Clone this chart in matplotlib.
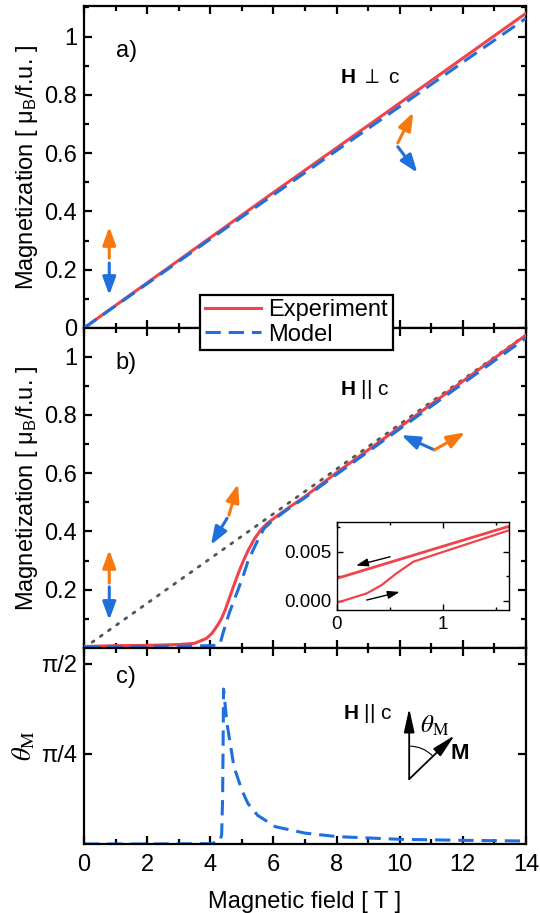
import numpy as np
import matplotlib
matplotlib.use("Agg")
import matplotlib.pyplot as plt
import matplotlib.transforms as mtrans
from matplotlib.patches import Arc
from matplotlib.lines import Line2D
from matplotlib.ticker import MultipleLocator, FixedLocator

plt.rcParams['font.family'] = ['Liberation Sans', 'DejaVu Sans']
plt.rcParams['mathtext.fontset'] = 'custom'
plt.rcParams['mathtext.rm'] = 'Liberation Sans'
plt.rcParams['mathtext.bf'] = 'Liberation Sans:bold'
plt.rcParams['mathtext.it'] = 'Liberation Sans:italic'
plt.rcParams['mathtext.fallback'] = 'stixsans'

RED = '#F0434B'
BLUE = '#1F6FDC'
ORANGE = '#F8780F'
GREY = '#555555'

# ---------------- data ----------------
field_a = [0, 2, 4, 6, 8, 10, 12, 14]
exp_a = [0, 0.155, 0.31, 0.465, 0.618, 0.772, 0.926, 1.08]
model_a = [0, 0.152, 0.305, 0.457, 0.609, 0.760, 0.912, 1.063]

field_b_exp = [0, 1, 2, 3, 3.5, 3.88, 4.05, 4.2, 4.35, 4.47, 4.6, 4.73, 4.9,
               5.05, 5.2, 5.4, 5.6, 5.8, 6.1, 6.5, 7, 8, 9, 10, 11, 12, 13, 14]
exp_b = [0.005, 0.008, 0.009, 0.012, 0.016, 0.033, 0.05, 0.073, 0.1, 0.13,
         0.17, 0.21, 0.26, 0.30, 0.335, 0.375, 0.405, 0.428, 0.452, 0.483,
         0.52, 0.602, 0.68, 0.758, 0.837, 0.916, 0.995, 1.074]

field_b_mod = [0, 1, 2, 3, 4, 4.3, 4.4, 4.6, 4.88, 5.05, 5.2, 5.46, 5.7,
               6.0, 6.5, 7, 8, 9, 10, 11, 12, 13, 14]
model_b = [0.003, 0.004, 0.005, 0.006, 0.008, 0.01, 0.05, 0.12, 0.2, 0.25,
           0.3, 0.36, 0.41, 0.44, 0.48, 0.516, 0.596, 0.674, 0.752, 0.83,
           0.908, 0.986, 1.064]

field_dot = [0, 14]
lin_dot = [0, 1.075]

inset_field_down = [0, 1.62]
inset_m_down = [0.00229, 0.00762]
inset_field_up = [0, 0.28, 0.42, 0.56, 0.72, 1.0, 1.62]
inset_m_up = [-0.0002, 0.00075, 0.0016, 0.0028, 0.004, 0.005, 0.00721]

field_c = [0, 2, 4.0, 4.3, 4.36, 4.39, 4.41, 4.42, 4.53, 4.75, 5.0, 5.19, 5.5,
           6.06, 7, 8.03, 10, 12, 14]
theta_c = [0, 0, 0.003, 0.02, 0.08, 0.4, 1.0, 1.352, 1.05, 0.673, 0.47, 0.354,
           0.25, 0.151, 0.095, 0.064, 0.041, 0.032, 0.026]

xticks = [0, 2, 4, 6, 8, 10, 12, 14]
mticks = [0, 0.2, 0.4, 0.6, 0.8, 1.0]
mtick_labels_a = ['0', '0.2', '0.4', '0.6', '0.8', '1']
mtick_labels_b = ['', '0.2', '0.4', '0.6', '0.8', '1']
theta_ticks = [np.pi / 4, np.pi / 2]
theta_labels = ['π/4', 'π/2']

# ---------------- figure ----------------
W, H = 540, 913
fig = plt.figure(figsize=(W / 100, H / 100), dpi=100)


def px_axes(left, top, right, bottom):
    return fig.add_axes([left / W, 1 - bottom / H, (right - left) / W, (bottom - top) / H])


axa = px_axes(84, 6, 526, 328)
axb = px_axes(84, 328, 526, 648)
axc = px_axes(84, 648, 526, 844)

FS = 17
DASH = (0, (5, 2.6))


def style(ax):
    for s in ax.spines.values():
        s.set_linewidth(1.6)
    ax.tick_params(which='both', direction='in', top=True, right=True, width=1.6,
                   labelsize=FS, pad=5)
    ax.tick_params(which='major', length=6)
    ax.tick_params(which='minor', length=3.5)
    ax.set_xlim(0, 14)
    ax.xaxis.set_major_locator(FixedLocator(xticks))
    ax.xaxis.set_minor_locator(MultipleLocator(1))


for ax in (axa, axb, axc):
    style(ax)

# panel a
axa.plot(field_a, exp_a, color=RED, lw=2.2, zorder=3)
axa.plot(field_a, model_a, color=BLUE, lw=2.2, ls=DASH, zorder=4)
axa.set_ylim(0, 1.105)
axa.set_yticks(mticks)
axa.set_yticklabels(mtick_labels_a)
axa.yaxis.set_minor_locator(MultipleLocator(0.1))
axa.set_xticklabels([])
axa.set_ylabel(r'Magnetization [ μ$_{\rm B}$/f.u. ]', fontsize=FS, labelpad=3)
axa.text(1.0, 0.95, 'a)', fontsize=FS, va='center')
axa.text(8.1, 0.86, r'$\mathbf{H}$ $\perp$ c', fontsize=15, va='center')

# panel b
axb.plot(field_dot, lin_dot, color=GREY, lw=2.0, ls=(0, (0.8, 2.8)),
         dash_capstyle='round', zorder=2)
axb.plot(field_b_exp, exp_b, color=RED, lw=2.2, zorder=3)
axb.plot(field_b_mod, model_b, color=BLUE, lw=2.2, ls=DASH, zorder=4)
axb.set_ylim(0, 1.0985)
axb.set_yticks(mticks)
axb.set_yticklabels(mtick_labels_b)
axb.yaxis.set_minor_locator(MultipleLocator(0.1))
axb.set_xticklabels([])
axb.set_ylabel(r'Magnetization [ μ$_{\rm B}$/f.u. ]', fontsize=FS, labelpad=3)
axb.text(1.0, 0.98, 'b)', fontsize=FS, va='center')
axb.text(8.1, 0.886, r'$\mathbf{H}$ || c', fontsize=15, va='center')

# panel c
axc.plot(field_c, theta_c, color=BLUE, lw=2.2, ls=DASH)
axc.set_ylim(0, 1.71)
axc.set_yticks(theta_ticks)
axc.set_yticklabels(theta_labels)
axc.set_xticklabels([str(t) for t in xticks])
axc.tick_params(axis='x', pad=7)
axc.set_xlabel('Magnetic field [ T ]', fontsize=FS, labelpad=11)
axc.set_ylabel(r'$\theta_{\rm M}$', fontsize=FS + 2, math_fontfamily='stix', labelpad=3)
axc.text(1.0, 1.453, 'c)', fontsize=FS, va='center')
axc.text(8.2, 1.14, r'$\mathbf{H}$ || c', fontsize=15, va='center')

# spin arrows


def arrow(ax, x0, y0, x1, y1, color, lw=2.2, style='-|>,head_length=0.6,head_width=0.22', ms=18):
    ax.annotate('', xy=(x1, y1), xytext=(x0, y0),
                arrowprops=dict(arrowstyle=style, color=color, lw=lw,
                                mutation_scale=ms, shrinkA=0, shrinkB=0))


arrow(axa, 0.8, 0.24, 0.8, 0.347, ORANGE)
arrow(axa, 0.8, 0.223, 0.8, 0.113, BLUE)
arrow(axa, 9.94, 0.635, 10.43, 0.74, ORANGE)
arrow(axa, 9.94, 0.622, 10.56, 0.533, BLUE)

arrow(axb, 0.8, 0.223, 0.8, 0.337, ORANGE)
arrow(axb, 0.8, 0.21, 0.8, 0.096, BLUE)
arrow(axb, 4.59, 0.456, 4.88, 0.563, ORANGE)
arrow(axb, 4.53, 0.445, 4.02, 0.354, BLUE)
arrow(axb, 11.1, 0.68, 10.05, 0.731, BLUE)
arrow(axb, 11.1, 0.68, 12.07, 0.74, ORANGE)

# diagram in panel c
slim = '-|>,head_length=0.9,head_width=0.2'
arrow(axc, 10.3, 0.566, 10.3, 1.183, 'k', lw=1.3, style=slim, ms=16)
arrow(axc, 10.3, 0.566, 11.74, 0.948, 'k', lw=1.3, style=slim, ms=16)
trans = fig.dpi_scale_trans + mtrans.ScaledTranslation(10.3, 0.566, axc.transData)
axc.add_patch(Arc((0, 0), 0.66, 0.66, theta1=44, theta2=90, transform=trans,
                  color='k', lw=0.8))
axc.text(10.65, 1.035, r'$\theta_{\rm M}$', fontsize=18, math_fontfamily='stix',
         va='center')
axc.text(11.6, 0.79, r'$\mathbf{M}$', fontsize=16, va='center')

# inset
axi = px_axes(337, 522, 509, 610)
for s in axi.spines.values():
    s.set_linewidth(1.0)
axi.plot(inset_field_down, inset_m_down, color=RED, lw=2.0)
axi.plot(inset_field_up, inset_m_up, color=RED, lw=1.6)
axi.set_xlim(0, 1.62)
axi.set_ylim(-0.00095, 0.00806)
axi.set_xticks([0, 1])
axi.set_xticklabels(['0', '1'])
axi.xaxis.set_minor_locator(MultipleLocator(0.5))
axi.set_yticks([0, 0.005])
axi.set_yticklabels(['0.000', '0.005'])
axi.yaxis.set_minor_locator(MultipleLocator(0.0025))
axi.tick_params(which='both', direction='in', top=True, right=True, width=1.0,
                labelsize=13.5, pad=4)
axi.tick_params(which='major', length=4)
axi.tick_params(which='minor', length=2.5)
arrow(axi, 0.5, 0.0045, 0.18, 0.0036, 'k', lw=1.0, style='-|>,head_length=0.6,head_width=0.2', ms=12)
arrow(axi, 0.28, 0.00007, 0.59, 0.0009, 'k', lw=1.0, style='-|>,head_length=0.6,head_width=0.2', ms=12)

# legend
handles = [Line2D([], [], color=RED, lw=2.2),
           Line2D([], [], color=BLUE, lw=2.2, ls=DASH)]
leg = fig.legend(handles, ['Experiment', 'Model'], loc='center',
                 bbox_to_anchor=(296.5 / W, 1 - 322.5 / H), fontsize=17,
                 frameon=True, fancybox=False, framealpha=1, edgecolor='k',
                 handlelength=2.4, handletextpad=0.3, borderpad=0.2,
                 labelspacing=0.1, borderaxespad=0)
leg.get_frame().set_linewidth(1.6)

fig.savefig('out.png', dpi=100)
